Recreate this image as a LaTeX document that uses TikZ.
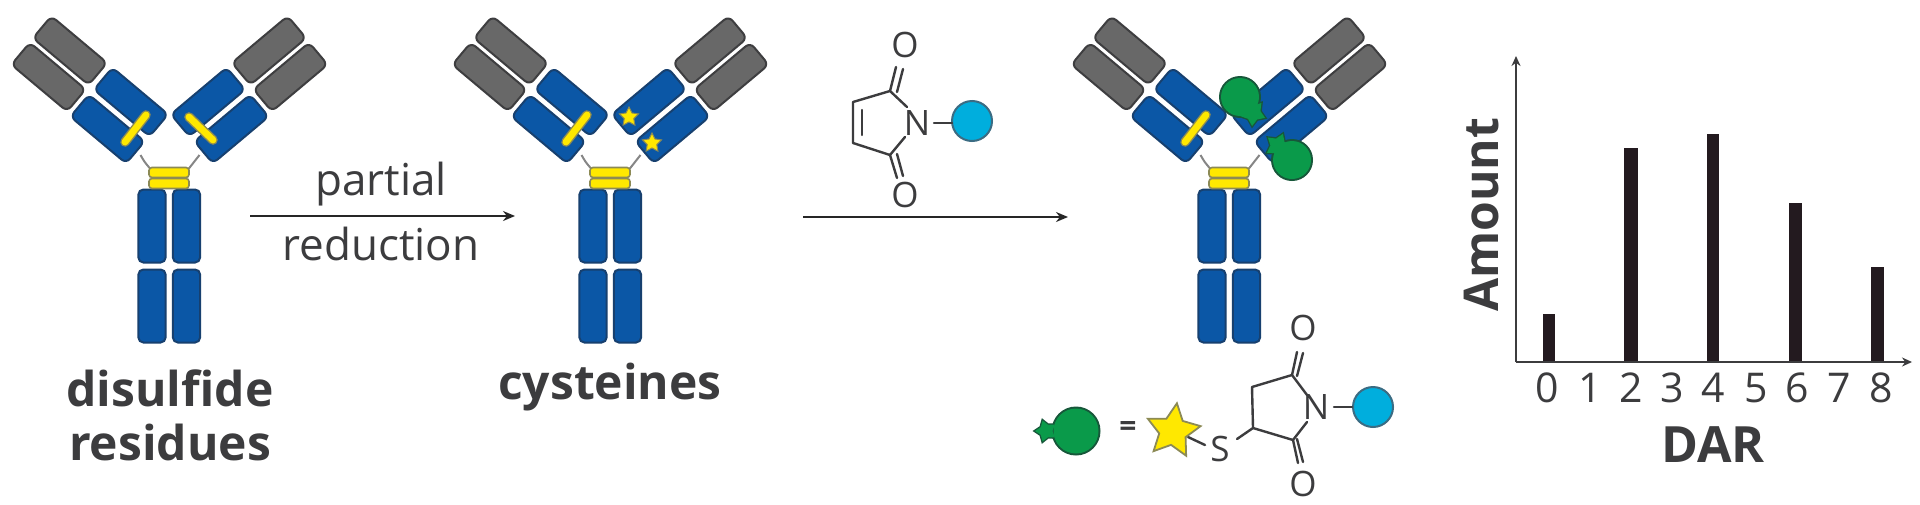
\documentclass[tikz,border=0pt]{standalone}
\usepackage{fontspec}
\setmainfont{Open Sans}
\usetikzlibrary{arrows.meta,shapes.geometric}
\definecolor{abblue}{HTML}{0B57A6}
\definecolor{abblueline}{HTML}{17406F}
\definecolor{abgrey}{HTML}{686868}
\definecolor{abgreyline}{HTML}{3E3E40}
\definecolor{abyellow}{HTML}{FFE800}
\definecolor{abyline}{HTML}{8C8A55}
\definecolor{abgreen}{HTML}{0A9A4A}
\definecolor{abgreenline}{HTML}{17573A}
\definecolor{abcyan}{HTML}{00AEDD}
\definecolor{abcyanline}{HTML}{3B6C83}
\definecolor{inkdark}{HTML}{3C3C3E}
\definecolor{barink}{HTML}{231A1F}
\tikzset{
  x=0.5pt,y=-0.5pt,
  armdom/.style={rectangle,rounded corners=3pt,draw,line width=1pt,minimum width=36.4pt,minimum height=14.4pt,inner sep=0pt},
  blued/.style={armdom,fill=abblue,draw=abblueline},
  greyd/.style={armdom,fill=abgrey,draw=abgreyline},
  stemd/.style={rectangle,rounded corners=2.5pt,draw=abblueline,fill=abblue,line width=1pt,minimum width=13.6pt,minimum height=36.5pt,inner sep=0pt},
  hbar/.style={rectangle,rounded corners=1.5pt,draw=abyline,fill=abyellow,line width=0.8pt,minimum width=20pt,minimum height=5pt,inner sep=0pt},
  hingeline/.style={draw=abgrey!80,line width=1pt},
  ssbond/.style={line width=4.8pt,line cap=round,draw=abyline},
  ssfill/.style={line width=3.4pt,line cap=round,draw=abyellow},
  ystar/.style={star,star points=5,star point ratio=2,fill=abyellow,draw=abyline,line width=0.5pt,minimum size=10pt,inner sep=0pt},
  bond/.style={draw=inkdark,line width=1.2pt,line cap=round,line join=round},
  atom/.style={font=\fontsize{17.5}{18}\selectfont,text=inkdark,inner sep=0pt},
  cyanball/.style={circle,fill=abcyan,draw=abcyanline,line width=1pt,minimum size=20pt,inner sep=0pt},
  greenball/.style={circle,fill=abgreen,minimum size=#1,inner sep=0pt},
  greenstar/.style={star,star points=5,star point ratio=1.7,fill=abgreen,minimum size=#1,inner sep=0pt},
  reaction/.style={draw=black!85,line width=0.9pt,-{Stealth[length=6pt,width=5pt]}},
  normlabel/.style={font=\fontsize{22}{22}\selectfont,text=inkdark,inner sep=0pt},
  boldlabel/.style={font=\bfseries\fontsize{24}{24}\selectfont,text=inkdark,inner sep=0pt},
  ticklabel/.style={font=\fontsize{20.5}{21}\selectfont,text=inkdark,inner sep=0pt},
  axisline/.style={draw=inkdark,line width=1pt,-{Stealth[length=5pt,width=4.5pt]}},
  barstyle/.style={fill=barink,draw=none},
  pics/antibody/.style={code={
    \coordinate (hl0) at (-29,155); \coordinate (hr0) at (30,155);
    \coordinate (hl1) at (-19,169); \coordinate (hr1) at (19,169);
    \draw[hingeline] (hl0) .. controls (-25,162) .. (hl1);
    \draw[hingeline] (hr0) .. controls (25,162) .. (hr1);
    \node[stemd] (s1) at (-17.5,226) {}; \node[stemd] (s2) at (17,226) {};
    \node[stemd] (s3) at (-17.5,306) {}; \node[stemd] (s4) at (17,306) {};
    \node[hbar] (h2) at (-0.5,183.5) {}; \node[hbar] (h1) at (-0.5,172.5) {};
    \node[greyd,rotate=-40] (g1) at (-99.5,50.5) {};
    \node[greyd,rotate=-40] (g2) at (-121,77) {};
    \node[greyd,rotate=40] (g3) at (99.5,50.5) {};
    \node[greyd,rotate=40] (g4) at (121,77) {};
    \node[blued,rotate=-40] (b1) at (-38.5,102) {};
    \node[blued,rotate=-40] (b2) at (-62,129) {};
    \node[blued,rotate=40] (b3) at (38.5,102) {};
    \node[blued,rotate=40] (b4) at (62,129) {};
    \coordinate (ss1a) at (-23.5,115); \coordinate (ss1b) at (-44.5,142);
    \draw[ssbond] (ss1a) -- (ss1b); \draw[ssfill] (ss1a) -- (ss1b);
  }},
}
\newcommand{\greenconj}[8]{% name, ball x, ball y, star x, star y, ball size, star size, star rotation
  \node[greenball=#6+2pt,fill=abgreenline] (#1o) at (#2,#3) {};
  \node[greenstar=#7+2.5pt,fill=abgreenline,rotate=#8] (#1p) at (#4,#5) {};
  \node[greenstar=#7,rotate=#8] (#1s) at (#4,#5) {};
  \node[greenball=#6] (#1b) at (#2,#3) {};
}
\begin{document}
\begin{tikzpicture}
\path[use as bounding box,fill=white] (0,0) rectangle (1920,504);

% antibodies
\pic[name prefix=abone-] at (169.5,0) {antibody};
\coordinate (ssra) at (189,117); \coordinate (ssrb) at (213,140);
\draw[ssbond] (ssra) -- (ssrb); \draw[ssfill] (ssra) -- (ssrb);
\pic[name prefix=abtwo-] at (610.5,0) {antibody};
\node[ystar] (st1) at (629,117) {};
\node[ystar] (st2) at (652,143) {};
\pic[name prefix=abthree-] at (1229.5,0) {antibody};
\greenconj{ga}{1240}{97}{1253}{113}{19pt}{13pt}{-40}
\greenconj{gb}{1292}{160}{1278}{146}{19pt}{13pt}{50}

% arrows and labels
\coordinate (a1s) at (250,216); \coordinate (a1e) at (515,216);
\draw[reaction] (a1s) -- (a1e);
\coordinate (a2s) at (803,217); \coordinate (a2e) at (1068,217);
\draw[reaction] (a2s) -- (a2e);
\node[normlabel] (lab1) at (381,184) {partial};
\node[normlabel] (lab2) at (381,244) {reduction};
\node[boldlabel] (lab3) at (170,388) {disulfide};
\node[boldlabel] (lab4) at (170,442) {residues};
\node[boldlabel] (lab5) at (610,387) {cysteines};

% maleimide reagent
\node[atom] (mO1) at (905,45) {O};
\node[atom] (mO2) at (905,195) {O};
\node[atom] (mN) at (917,123) {N};
\node[cyanball] (mR) at (972,121) {};
\coordinate (mc1) at (890,91); \coordinate (mc2) at (853,102);
\coordinate (mc3) at (853,143); \coordinate (mc4) at (890,155);
\coordinate (mn1) at (907,107); \coordinate (mn2) at (905,137);
\draw[bond] (mn1) -- (mc1) -- (mc2) -- (mc3) -- (mc4) -- (mn2);
\coordinate (md1) at (862,110); \coordinate (md2) at (862,135);
\draw[bond] (md1) -- (md2);
\coordinate (mo1a) at (896,67); \coordinate (mo1b) at (903,69); \coordinate (mo1c) at (897,92);
\draw[bond] (mc1) -- (mo1a); \draw[bond] (mo1c) -- (mo1b);
\coordinate (mo2a) at (897,178); \coordinate (mo2b) at (903,176); \coordinate (mo2c) at (897,154);
\draw[bond] (mc4) -- (mo2a); \draw[bond] (mo2c) -- (mo2b);
\coordinate (mnr) at (934,123); \coordinate (mrl) at (952,123);
\draw[bond] (mnr) -- (mrl);

% legend
\greenconj{gc}{1076}{431}{1046}{431}{22.5pt}{11pt}{90}
\node[font=\fontsize{15}{15}\selectfont\bfseries,text=inkdark,inner sep=0pt] (eq) at (1128,429) {=};
\coordinate (ls0) at (1188,437); \coordinate (ls1) at (1205,445);
\draw[bond] (ls0) -- (ls1);
\node[ystar,minimum size=28pt,rotate=-8,line width=0.9pt] (yst) at (1173,431) {};
\node[atom] (lS) at (1220,449) {S};
\node[atom] (lN) at (1316,407) {N};
\node[atom] (lO1) at (1303,328) {O};
\node[atom] (lO2) at (1303,484) {O};
\node[cyanball] (lR) at (1373,407) {};
\coordinate (lc1) at (1253,428); \coordinate (lc2) at (1252,387);
\coordinate (lc3) at (1292,375); \coordinate (lc4) at (1293,440);
\coordinate (ln1) at (1307,395); \coordinate (ln2) at (1307,422);
\coordinate (lsb) at (1237,439);
\draw[bond] (lsb) -- (lc1) -- (lc2) -- (lc3) -- (ln1);
\draw[bond] (ln2) -- (lc4) -- (lc1);
\coordinate (lo1a) at (1297,352); \coordinate (lo1b) at (1303,353); \coordinate (lo1c) at (1297,376);
\draw[bond] (lc3) -- (lo1a); \draw[bond] (lo1c) -- (lo1b);
\coordinate (lo2a) at (1298,463); \coordinate (lo2b) at (1303,462); \coordinate (lo2c) at (1297,439);
\draw[bond] (lc4) -- (lo2a); \draw[bond] (lo2c) -- (lo2b);
\coordinate (lnr) at (1334,407); \coordinate (lrl) at (1352,407);
\draw[bond] (lnr) -- (lrl);

% chart
\coordinate (orig) at (1516,362); \coordinate (ytop) at (1516,56); \coordinate (xend) at (1912,362);
\fill[barstyle] (1543,314) rectangle (1555,362);
\fill[barstyle] (1624,148) rectangle (1638,362);
\fill[barstyle] (1707,134) rectangle (1719,362);
\fill[barstyle] (1789,203) rectangle (1802,362);
\fill[barstyle] (1871,267) rectangle (1884,362);
\draw[axisline] (orig) -- (ytop);
\draw[axisline] (orig) -- (xend);
\node[ticklabel] (t0) at (1547,388) {0};
\node[ticklabel] (t1) at (1590,388) {1};
\node[ticklabel] (t2) at (1631,388) {2};
\node[ticklabel] (t3) at (1672,388) {3};
\node[ticklabel] (t4) at (1713,388) {4};
\node[ticklabel] (t5) at (1756,388) {5};
\node[ticklabel] (t6) at (1797,388) {6};
\node[ticklabel] (t7) at (1839,388) {7};
\node[ticklabel] (t8) at (1881,388) {8};
\node[boldlabel,font=\bfseries\fontsize{25}{25}\selectfont] (dar) at (1713,445) {DAR};
\node[boldlabel,font=\bfseries\fontsize{24}{24}\selectfont,rotate=90] (amt) at (1482,215) {Amount};
\end{tikzpicture}
\end{document}
